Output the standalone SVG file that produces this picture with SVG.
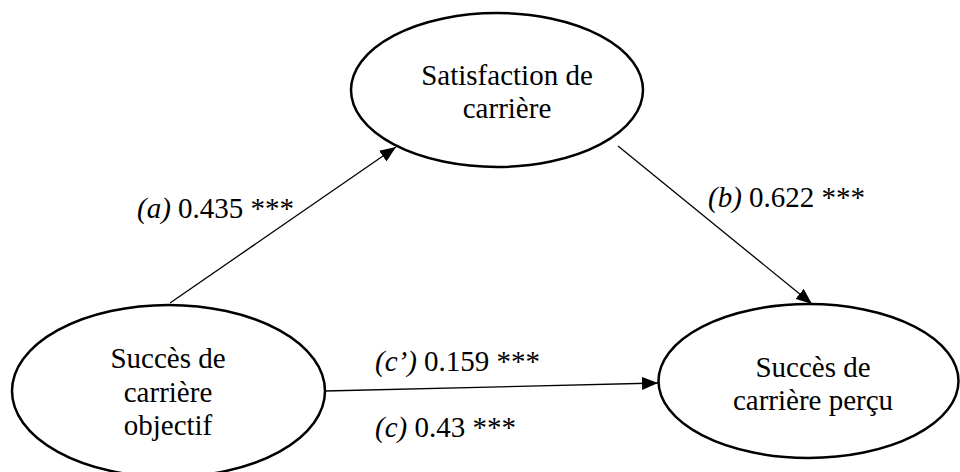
<svg xmlns="http://www.w3.org/2000/svg" width="960" height="472" viewBox="0 0 960 472" font-family="'Liberation Serif', 'Times New Roman', serif" font-size="29">
<defs>
<style>
.node ellipse{fill:#fff;stroke:#000;stroke-width:2.5}
text{font-family:"Liberation Serif","Times New Roman",serif;font-size:29px;fill:#000}
.c{text-anchor:middle}
.conn line{stroke:#000;stroke-width:1.3}
</style>
<marker id="ah" markerUnits="userSpaceOnUse" markerWidth="16" markerHeight="13" refX="16" refY="6.5" orient="auto">
<path d="M0,0 L16,6.5 L0,13 z" fill="#000"/>
</marker>
</defs>
<rect width="960" height="472" fill="#fff"/>
<g id="connectors" class="conn">
<line x1="170" y1="303" x2="396" y2="147" marker-end="url(#ah)"/>
<line x1="618" y1="146" x2="812" y2="304" marker-end="url(#ah)"/>
<line x1="325" y1="391" x2="658" y2="383" marker-end="url(#ah)"/>
</g>
<g id="node-satisfaction" class="node">
<ellipse cx="497" cy="90" rx="146" ry="77"/>
<text class="c" x="507" y="85">Satisfaction de</text>
<text class="c" x="507" y="118">carrière</text>
</g>
<g id="node-objectif" class="node">
<ellipse cx="168.5" cy="391" rx="156.5" ry="86"/>
<text class="c" x="168" y="368">Succès de</text>
<text class="c" x="168" y="402">carrière</text>
<text class="c" x="168" y="435">objectif</text>
</g>
<g id="node-percu" class="node">
<ellipse cx="808.5" cy="381" rx="150" ry="77"/>
<text class="c" x="813" y="377">Succès de</text>
<text class="c" x="813" y="410">carrière perçu</text>
</g>
<g id="labels">
<text x="137" y="218"><tspan font-style="italic">(a)</tspan> 0.435 ***</text>
<text x="708" y="207"><tspan font-style="italic">(b)</tspan> 0.622 ***</text>
<text x="375" y="371"><tspan font-style="italic">(c’)</tspan> 0.159 ***</text>
<text x="375" y="437"><tspan font-style="italic">(c)</tspan> 0.43 ***</text>
</g>
</svg>
